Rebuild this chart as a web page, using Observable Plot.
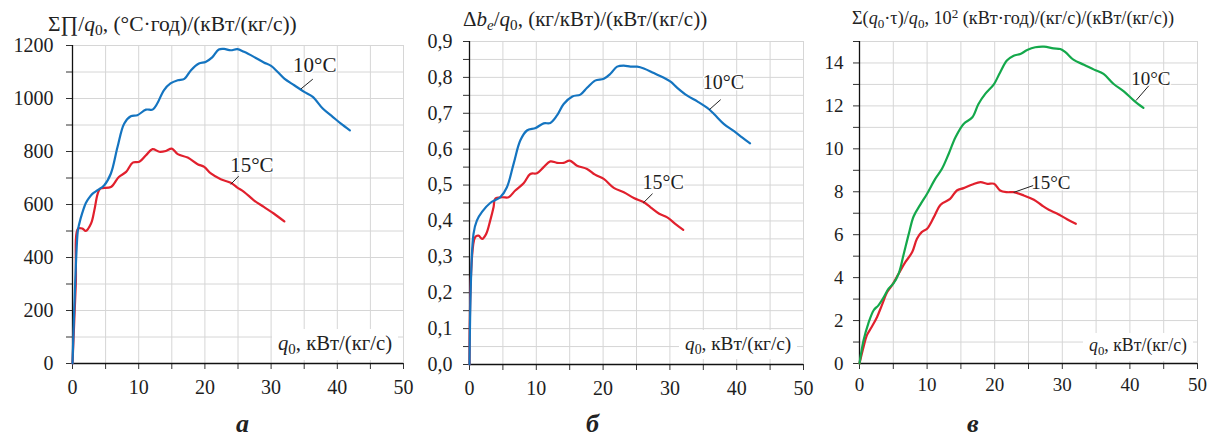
<!DOCTYPE html>
<html>
<head>
<meta charset="utf-8">
<script src="https://cdn.jsdelivr.net/npm/d3@7"></script>
<script src="https://cdn.jsdelivr.net/npm/@observablehq/plot@0.6"></script>
<style>
  body { margin: 0; background: #fff; }
  #root { position: relative; width: 1210px; height: 439px; background: #fff; overflow: hidden; font-family: "Liberation Serif", "Times New Roman", serif; color: #222; }
  .pl { position: absolute; top: 0; }
  .pl text { font-family: "Liberation Serif", "Times New Roman", serif !important; }
  .t { position: absolute; white-space: nowrap; line-height: 1; }
  .t sub { font-size: 0.72em; vertical-align: -0.28em; line-height: 0; }
  .t sup { font-size: 0.72em; vertical-align: 0.45em; line-height: 0; }
  .xl { position: absolute; white-space: nowrap; line-height: 1; background: #fff; padding: 4px 6px 6px 6px; }
  .xl sub { font-size: 0.72em; vertical-align: -0.28em; line-height: 0; }
  .let { position: absolute; font-weight: bold; font-style: italic; font-size: 26px; line-height: 1; }
</style>
</head>
<body>
<div id="root"></div>
<script>
// ---------- data ----------
const xTicks = [0, 10, 20, 30, 40, 50];
const seriesNames = ["10°C", "15°C"];

// Panel a: ΣΠ/q0 vs q0
const a10 = [[0,0],[0.4,300],[0.8,500],[1.0,525],[1.5,570],[2.0,605],[2.5,625],[3.0,640],[3.8,654],[4.8,673],[5.8,717],[6.8,817],[7.8,905],[8.8,933],[9.8,937],[11.1,958],[12.1,958],[12.8,981],[13.8,1031],[14.8,1057],[15.9,1069],[16.9,1074],[17.9,1107],[19.1,1132],[20.1,1138],[21.1,1155],[22.1,1185],[22.9,1187],[23.9,1182],[24.9,1186],[25.9,1176],[27.4,1157],[28.9,1136],[30.0,1123],[31.0,1100],[32.0,1075],[33.5,1050],[35.0,1025],[36.3,1006],[37.8,962],[39.3,931],[40.5,906],[41.9,880]];
const a15 = [[0,0],[0.5,300],[0.85,509],[1.5,509],[2.0,500],[2.8,528],[3.3,578],[3.8,640],[4.2,660],[5.8,666],[7.0,704],[8.1,723],[9.1,758],[10.1,761],[11.1,786],[12.1,809],[13.1,799],[14.1,802],[15.0,811],[15.9,790],[17.4,777],[18.9,752],[19.9,742],[20.9,717],[22.4,695],[23.9,682],[24.9,664],[25.9,648],[27.4,616],[28.9,591],[30.4,566],[32.0,536]];

// Panel б: Δbe/q0 vs q0
const b10 = [[0,0],[0.6,0.364],[1.1,0.401],[1.9,0.426],[3.1,0.450],[4.6,0.466],[5.6,0.494],[6.6,0.559],[7.6,0.624],[8.6,0.652],[9.9,0.659],[11.1,0.672],[12.1,0.673],[13.1,0.694],[14.1,0.726],[15.4,0.747],[16.6,0.752],[17.6,0.771],[18.8,0.791],[20.1,0.796],[21.1,0.810],[22.1,0.830],[23.1,0.833],[24.1,0.830],[25.1,0.830],[26.1,0.825],[27.6,0.812],[29.1,0.799],[30.1,0.788],[31.1,0.771],[32.6,0.749],[34.1,0.733],[35.6,0.715],[36.6,0.698],[38.1,0.670],[39.6,0.650],[40.8,0.633],[42.0,0.616]];
const b15 = [[0,0],[0.85,0.355],[1.35,0.359],[1.9,0.350],[2.5,0.364],[3.1,0.401],[3.6,0.438],[3.85,0.462],[4.9,0.466],[5.85,0.466],[6.85,0.485],[8.1,0.505],[9.1,0.531],[10.1,0.533],[11.1,0.550],[12.1,0.566],[13.1,0.562],[14.1,0.562],[15.0,0.568],[16.1,0.554],[17.6,0.545],[18.8,0.529],[20.1,0.517],[21.6,0.492],[23.1,0.480],[24.6,0.464],[26.1,0.452],[27.1,0.438],[28.4,0.420],[29.6,0.410],[30.8,0.392],[32.0,0.375]];

// Panel в: Σ(q0·τ)/q0 vs q0
const c10 = [[0,0],[0.6,1.08],[1.3,1.86],[2.1,2.48],[2.8,2.71],[3.6,3.10],[4.3,3.49],[5.0,3.72],[5.8,4.19],[6.5,5.04],[7.3,6.05],[8.0,6.85],[9.0,7.40],[10.0,7.91],[11.2,8.60],[12.2,9.07],[13.2,9.77],[14.2,10.54],[15.4,11.16],[16.7,11.47],[17.6,12.09],[18.6,12.56],[19.9,13.02],[20.8,13.56],[21.8,14.11],[22.8,14.34],[23.8,14.42],[24.8,14.60],[26.0,14.73],[27.3,14.76],[28.7,14.68],[29.7,14.65],[30.5,14.49],[31.7,14.14],[33.2,13.92],[34.7,13.69],[36.1,13.49],[37.6,13.02],[39.1,12.68],[40.6,12.25],[42.0,11.91]];
const c15 = [[0,0],[0.6,0.77],[1.1,1.32],[1.8,1.70],[2.6,2.17],[3.3,2.71],[4.1,3.33],[4.8,3.64],[5.8,4.19],[6.8,4.73],[7.8,5.19],[8.5,5.81],[9.2,6.12],[10.0,6.28],[11.0,6.82],[12.0,7.40],[13.4,7.67],[14.4,8.06],[15.4,8.17],[16.7,8.34],[17.9,8.45],[18.9,8.37],[19.9,8.37],[20.8,8.06],[21.8,7.98],[22.8,7.98],[24.3,7.83],[25.8,7.63],[27.0,7.36],[28.0,7.16],[29.2,6.99],[30.7,6.72],[32.0,6.51]];

// y tick values
const aYTicks = [0, 200, 400, 600, 800, 1000, 1200];
const bYTicks = [0, 0.1, 0.2, 0.3, 0.4, 0.5, 0.6, 0.7, 0.8, 0.9];
const cYTicks = [0, 2, 4, 6, 8, 10, 12, 14];

// label anchors (data coords) and leader lines
const aLabels = [{x: 36.6, y: 1126, t: seriesNames[0]}, {x: 27.1, y: 749, t: seriesNames[1]}];
const aLeaders = [{x1: 36.3, y1: 1073, x2: 34.5, y2: 1036}, {x1: 25.1, y1: 707, x2: 23.9, y2: 676}];
const bLabels = [{x: 38.0, y: 0.786, t: seriesNames[0]}, {x: 29.0, y: 0.507, t: seriesNames[1]}];
const bLeaders = [{x1: 37.6, y1: 0.738, x2: 35.9, y2: 0.710}, {x1: 27.4, y1: 0.476, x2: 26.0, y2: 0.450}];
const cLabels = [{x: 43.1, y: 13.27, t: seriesNames[0]}, {x: 28.3, y: 8.43, t: seriesNames[1]}];
const cLeaders = [{x1: 42.8, y1: 12.94, x2: 40.9, y2: 12.25}, {x1: 25.7, y1: 8.29, x2: 22.8, y2: 7.97}];

// ---------- drawing ----------
const BLUE = "#1474c0", RED = "#e1202d", GREEN = "#14a84b", GRID = "#d6d6d6";
const FONT = "Liberation Serif, Times New Roman, serif";
const root = document.getElementById("root");

function panel(o) {
  const minorX = d3.range(0, 11).map(i => i * 5);
  const p = Plot.plot({
    width: o.width, height: 400,
    marginLeft: o.ml, marginRight: o.mr, marginTop: o.mt, marginBottom: o.mb,
    x: {domain: [0, 50]},
    y: {domain: o.yDomain},
    style: {fontFamily: FONT, fontSize: o.tickFont + "px", color: "#1e1e1e", background: "transparent", overflow: "visible"},
    marks: [
      Plot.gridX(minorX.filter(d => d > 0), {stroke: GRID, strokeOpacity: 1, strokeWidth: 1}),
      Plot.gridY(o.yMinor.filter(d => d > 0), {stroke: GRID, strokeOpacity: 1, strokeWidth: 1}),
      Plot.axisX(minorX, {tickSize: 6, tickPadding: o.xPad, stroke: "#333", tickFormat: d => xTicks.includes(d) ? String(d) : "", label: null}),
      Plot.axisY(o.yMinor, {tickSize: 6, tickPadding: o.yPad, stroke: "#333", tickFormat: o.yFmt, label: null}),
      Plot.ruleX([0], {stroke: "#111", strokeWidth: 1.3}),
      Plot.ruleY([0], {stroke: "#111", strokeWidth: 1.3}),
      Plot.line(o.s15, {x: d => d[0], y: d => d[1], stroke: RED, strokeWidth: 2.2, curve: "catmull-rom"}),
      Plot.line(o.s10, {x: d => d[0], y: d => d[1], stroke: o.c10, strokeWidth: 2.2, curve: "catmull-rom"}),
      Plot.link(o.leaders, {x1: "x1", y1: "y1", x2: "x2", y2: "y2", stroke: "#222", strokeWidth: 1}),
      Plot.text(o.labels, {x: "x", y: "y", text: "t", fontSize: o.labFont, fill: "#1e1e1e", stroke: "white", strokeWidth: 3})
    ]
  });
  p.classList.add("pl");
  p.style.left = o.left + "px";
  root.appendChild(p);
}

const fmtComma = d => d3.format(".1f")(d).replace(".", ",");

panel({left: 0, width: 410, ml: 72, mr: 7, mt: 45, mb: 37,
  yDomain: [0, 1200], yMinor: d3.range(0, 13).map(i => i * 100),
  yFmt: d => aYTicks.includes(d) ? String(d) : "",
  xPad: 10, yPad: 13, tickFont: 20, labFont: 21,
  s10: a10, s15: a15, c10: BLUE, labels: aLabels, leaders: aLeaders});

panel({left: 410, width: 400, ml: 59, mr: 7, mt: 41, mb: 36,
  yDomain: [0, 0.9], yMinor: d3.range(0, 19).map(i => Math.round(i * 5) / 100),
  yFmt: d => bYTicks.some(t => Math.abs(t - d) < 1e-9) ? fmtComma(d) : "",
  xPad: 10, yPad: 11, tickFont: 20, labFont: 20,
  s10: b10, s15: b15, c10: BLUE, labels: bLabels, leaders: bLeaders});

panel({left: 820, width: 390, ml: 39, mr: 13, mt: 41, mb: 37,
  yDomain: [0, 15], yMinor: d3.range(0, 16),
  yFmt: d => cYTicks.includes(d) ? String(d) : "",
  xPad: 8, yPad: 10, tickFont: 19, labFont: 19,
  s10: c10, s15: c15, c10: GREEN, labels: cLabels, leaders: cLeaders});

// ---------- texts ----------
function html(cls, left, top, size, inner) {
  const d = document.createElement("div");
  d.className = cls;
  d.style.left = left + "px";
  d.style.top = top + "px";
  if (size) d.style.fontSize = size + "px";
  d.innerHTML = inner;
  root.appendChild(d);
  return d;
}
html("t", 48, 14, 21.5, "Σ∏/<i>q</i><sub>0</sub>, (°C·год)/(кВт/(кг/с))");
html("t", 463, 9, 21, "Δ<i>b</i><sub><i>e</i></sub>/<i>q</i><sub>0</sub>, (кг/кВт)/(кВт/(кг/с))");
html("t", 852, 9, 18.2, "Σ(<i>q</i><sub>0</sub>·τ)/<i>q</i><sub>0</sub>, 10<sup>2</sup> (кВт·год)/(кг/с)/(кВт/(кг/с))");

html("xl", 272, 329, 20.7, "<i>q</i><sub>0</sub>, кВт/(кг/с)");
html("xl", 679, 330, 19.3, "<i>q</i><sub>0</sub>, кВт/(кг/с)");
html("xl", 1083, 333, 17.8, "<i>q</i><sub>0</sub>, кВт/(кг/с)");

html("let", 236, 411, null, "а");
html("let", 586, 411, null, "б");
html("let", 967, 411, null, "в");
</script>
</body>
</html>
